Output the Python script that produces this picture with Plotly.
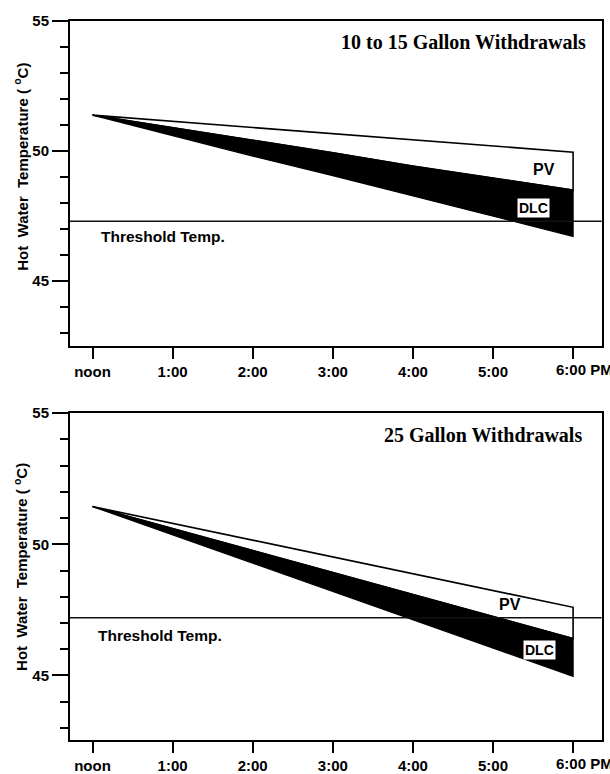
import plotly.graph_objects as go

# ---- data ----
hours = [0, 1, 2, 3, 4, 5, 6]
tick_labels = ["noon", "1:00", "2:00", "3:00", "4:00", "5:00", "6:00 PM"]

# top panel: 10 to 15 gallon withdrawals
top_pv = [51.37, 51.13, 50.90, 50.66, 50.42, 50.19, 49.95]
top_dlc_upper = [51.37, 50.89, 50.41, 49.93, 49.42, 48.96, 48.50]
top_dlc_lower = [51.37, 50.58, 49.80, 49.05, 48.28, 47.50, 46.72]
top_threshold = 47.3

# bottom panel: 25 gallon withdrawals
bot_pv = [51.44, 50.80, 50.16, 49.54, 48.90, 48.24, 47.60]
bot_dlc_upper = [51.44, 50.60, 49.76, 48.93, 48.09, 47.25, 46.41]
bot_dlc_lower = [51.44, 50.36, 49.28, 48.21, 47.12, 46.05, 44.97]
bot_threshold = 47.2

panel_titles = ["10 to 15 Gallon Withdrawals", "25 Gallon Withdrawals"]

W, H = 610, 774
fig = go.Figure()

def px_x(p):
    return p / W

def px_y(p):
    return 1 - p / H

panels = [
    dict(pv=top_pv, up=top_dlc_upper, lo=top_dlc_lower, thr=top_threshold,
         xa="x", ya="y", title=panel_titles[0], dom=(341.7, 11.7),
         yrange=[42.52, 55], title_pos=(588, 33), ytitle_c=160,
         thr_lbl=(0.08, 46.7), pv_lbl=(5.64, 49.27), dlc_lbl=(5.51, 47.81)),
    dict(pv=bot_pv, up=bot_dlc_upper, lo=bot_dlc_lower, thr=bot_threshold,
         xa="x2", ya="y2", title=panel_titles[1], dom=(741.3, 410.0),
         yrange=[42.55, 55], title_pos=(584, 432), ytitle_c=566,
         thr_lbl=(0.04, 46.51), pv_lbl=(5.21, 47.71), dlc_lbl=(5.58, 45.99)),
]

sans = "Liberation Sans, Arial, sans-serif"
serif = "Liberation Serif, Times New Roman, serif"

ticktext = tick_labels[:-1] + [""]

for i, p in enumerate(panels):
    # PV white wedge
    fig.add_trace(go.Scatter(
        x=hours + hours[::-1], y=p["pv"] + p["up"][::-1],
        fill="toself", fillcolor="white", mode="lines",
        line=dict(color="black", width=1.6),
        xaxis=p["xa"], yaxis=p["ya"], showlegend=False, hoverinfo="skip"))
    # DLC black band
    fig.add_trace(go.Scatter(
        x=hours + hours[::-1], y=p["up"] + p["lo"][::-1],
        fill="toself", fillcolor="black", mode="lines",
        line=dict(color="black", width=1.2),
        xaxis=p["xa"], yaxis=p["ya"], showlegend=False, hoverinfo="skip"))
    # threshold line
    axn = "" if i == 0 else "2"
    fig.add_shape(type="line", xref=f"x{axn} domain", x0=0, x1=1,
                  yref=p["ya"], y0=p["thr"], y1=p["thr"],
                  line=dict(color="#111", width=1.6))
    # annotations
    fig.add_annotation(text=f"<b>{p['title']}</b>", xref="paper", yref="paper",
                       x=px_x(p["title_pos"][0]), y=px_y(p["title_pos"][1]),
                       xanchor="right", yanchor="middle", showarrow=False,
                       font=dict(family=serif, size=20, color="black"))
    fig.add_annotation(text="<b>Threshold Temp.</b>", xref=p["xa"], yref=p["ya"],
                       x=p["thr_lbl"][0], y=p["thr_lbl"][1], xanchor="left",
                       yanchor="middle", showarrow=False,
                       font=dict(family=sans, size=15.5, color="black"))
    fig.add_annotation(text="<b>PV</b>", xref=p["xa"], yref=p["ya"],
                       x=p["pv_lbl"][0], y=p["pv_lbl"][1], showarrow=False,
                       font=dict(family=sans, size=16, color="black"))
    fig.add_annotation(text="<b>DLC</b>", xref=p["xa"], yref=p["ya"],
                       x=p["dlc_lbl"][0], y=p["dlc_lbl"][1], showarrow=False,
                       bgcolor="white", borderpad=1,
                       font=dict(family=sans, size=14, color="black"))
    fig.add_annotation(text="<b>Hot  Water  Temperature ( <sup>o</sup>C)</b>",
                       xref="paper", yref="paper", x=px_x(21),
                       y=px_y(p["ytitle_c"]), textangle=-90, showarrow=False,
                       xanchor="center", yanchor="middle",
                       font=dict(family=sans, size=15, color="black"))
    # last x tick label: "6:00" centred on its tick, " PM" trailing, as in the reference
    fig.add_annotation(text=f"<b>{tick_labels[-1]}</b>", xref=p["xa"],
                       yref=f"{p['ya']} domain", x=hours[-1], y=0,
                       xanchor="left", yanchor="top", xshift=-19, yshift=-13,
                       showarrow=False,
                       font=dict(family=sans, size=15, color="black"))

    xaxis = dict(domain=[px_x(70), px_x(601.7)], range=[-0.281, 6.357],
                 tickvals=hours, ticktext=ticktext, ticks="outside",
                 ticklen=11, tickwidth=2, tickcolor="black",
                 showline=True, linewidth=2, linecolor="black", mirror=True,
                 showgrid=False, zeroline=False,
                 tickfont=dict(family=sans, size=15, color="black", weight="bold"),
                 anchor=p["ya"])
    yaxis = dict(domain=[px_y(p["dom"][0]), px_y(p["dom"][1])],
                 range=p["yrange"], tick0=0, dtick=5, ticks="outside",
                 ticklen=16, tickwidth=2, tickcolor="black",
                 minor=dict(dtick=1, tick0=0, ticks="outside", ticklen=8,
                            tickwidth=2, tickcolor="black", showgrid=False),
                 showline=True, linewidth=2, linecolor="black", mirror=True,
                 showgrid=False, zeroline=False,
                 tickfont=dict(family=sans, size=15, color="black", weight="bold"),
                 anchor=p["xa"])
    if i == 0:
        fig.update_layout(xaxis=xaxis, yaxis=yaxis)
    else:
        fig.update_layout(xaxis2=xaxis, yaxis2=yaxis)

fig.update_layout(width=W, height=H, margin=dict(l=0, r=0, t=0, b=0),
                  paper_bgcolor="white", plot_bgcolor="white",
                  showlegend=False)

fig.write_html("out.html", config={"displayModeBar": False},
               post_script="document.body.style.margin='0';"
                           "document.body.style.overflow='hidden';")
